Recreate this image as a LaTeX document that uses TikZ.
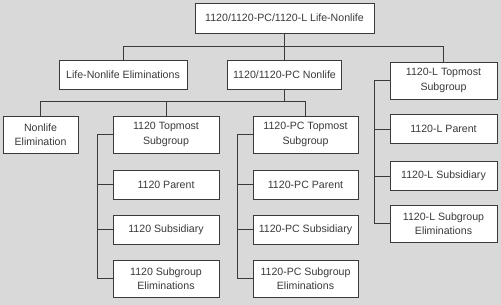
\documentclass[tikz,border=0pt]{standalone}
\usepackage{fontspec}
\setmainfont{Liberation Sans}
\usetikzlibrary{positioning}
\definecolor{orgback}{HTML}{D9D9D9}
\definecolor{orgline}{HTML}{3A3A3A}
\definecolor{orgtext}{HTML}{3A3A3A}
\tikzset{
  orgbox/.style={
    draw=orgline,
    fill=white,
    line width=0.85pt,
    align=center,
    inner sep=0pt,
    minimum height=29pt,
    text=orgtext,
    font=\fontsize{10.6}{14.5}\selectfont
  },
  tallbox/.style={orgbox, minimum height=37pt},
  orglink/.style={
    draw=orgline,
    line width=0.85pt
  }
}

\begin{document}
\begin{tikzpicture}[x=1pt,y=-1pt]
\fill[orgback] (0,0) rectangle (501,305);
\useasboundingbox (0,0) rectangle (501,305);

\node[orgbox, minimum width=179pt, minimum height=30pt] (root) at (284.5,18)
  {1120/1120-PC/1120-L Life-Nonlife};

\node[orgbox, minimum width=128pt] (lne) at (123,74.5)
  {Life-Nonlife Eliminations};
\node[orgbox, minimum width=114pt] (nonlife) at (284.5,74.5)
  {1120/1120-PC Nonlife};
\node[tallbox, minimum width=107pt] (ltop) at (443.5,80.5)
  {1120-L Topmost\\Subgroup};

\node[tallbox, minimum width=75pt] (nle) at (40.5,134.5)
  {Nonlife\\Elimination};
\node[tallbox, minimum width=106pt] (top1120) at (166,134.5)
  {1120 Topmost\\Subgroup};
\node[tallbox, minimum width=105pt] (pctop) at (305.5,134.5)
  {1120-PC Topmost\\Subgroup};

\node[orgbox, minimum width=106pt] (par1120) at (166,184.5) {1120 Parent};
\node[orgbox, minimum width=106pt] (sub1120) at (166,229.5) {1120 Subsidiary};
\node[tallbox, minimum width=106pt] (elim1120) at (166,278.5)
  {1120 Subgroup\\Eliminations};

\node[orgbox, minimum width=105pt] (pcpar) at (305.5,184.5) {1120-PC Parent};
\node[orgbox, minimum width=105pt] (pcsub) at (305.5,229.5) {1120-PC Subsidiary};
\node[tallbox, minimum width=105pt] (pcelim) at (305.5,278.5)
  {1120-PC Subgroup\\Eliminations};

\node[orgbox, minimum width=107pt] (lpar) at (443.5,129) {1120-L Parent};
\node[orgbox, minimum width=107pt] (lsub) at (443.5,176) {1120-L Subsidiary};
\node[tallbox, minimum width=107pt] (lelim) at (443.5,223.5)
  {1120-L Subgroup\\Eliminations};

% first level
\draw[orglink] (root.south) -- ++(0,13.5) -| (lne.north);
\draw[orglink] (root.south) -- ++(0,13.5) -| (ltop.north);
\draw[orglink] (root.south) -- (nonlife.north);

% second level
\draw[orglink] (nonlife.south) -- ++(0,12.5) -| (nle.north);
\draw[orglink] (nonlife.south) -- ++(0,12.5) -| (top1120.north);
\draw[orglink] (nonlife.south) -- ++(0,12.5) -| (pctop.north);

% subgroup columns
\foreach \head/\kid in {top1120/par1120, top1120/sub1120, top1120/elim1120,
    pctop/pcpar, pctop/pcsub, pctop/pcelim,
    ltop/lpar, ltop/lsub, ltop/lelim}
  \draw[orglink] (\head.west) -- ++(-15,0) |- (\kid.west);
\end{tikzpicture}
\end{document}
